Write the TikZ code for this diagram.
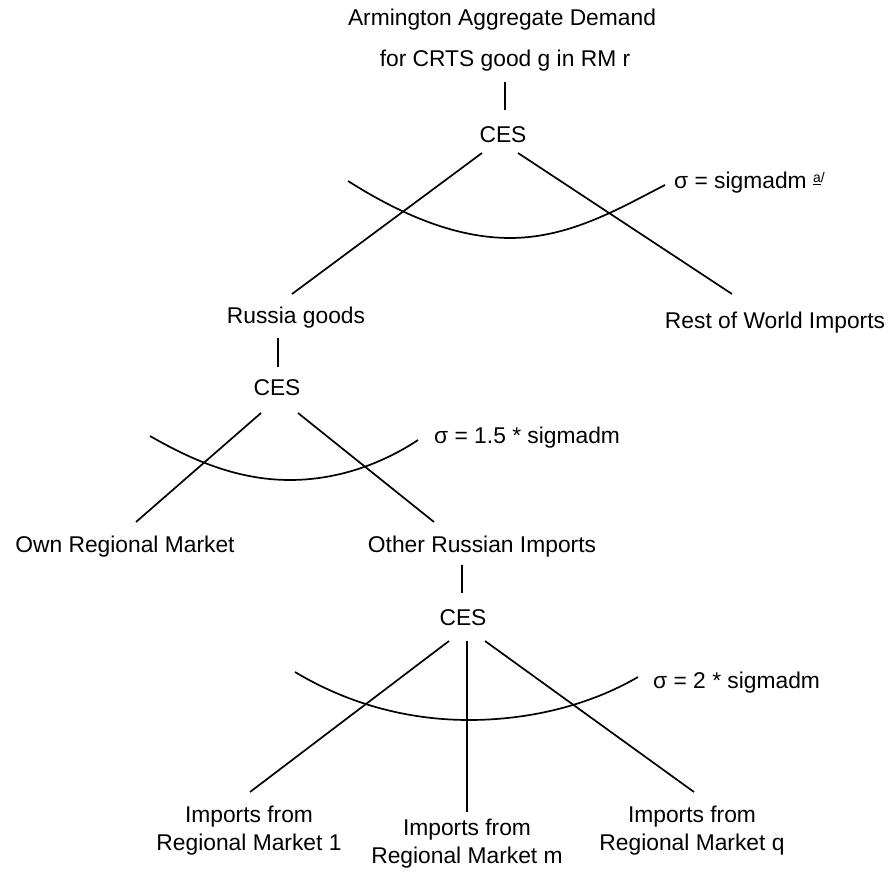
\documentclass[tikz,border=0pt]{standalone}
\usepackage{fontspec}
\setmainfont{Liberation Sans}
\begin{document}
\begin{tikzpicture}[x=1pt,y=-1pt,
  lbl/.style={inner sep=0pt,font=\fontsize{22.8}{28}\selectfont},
  sig/.style={lbl,anchor=west},
  stack/.style={lbl,align=center},
  wire/.style={line width=1.7pt},
  nest/.style={line width=1.7pt}]
\useasboundingbox (0,0) rectangle (896,874);

% ---- top level ----
\node[lbl] (title1) at (502,20) {Armington Aggregate Demand};
\node[lbl] (title2) at (505,61) {for CRTS good g in RM r};
\node[lbl] (ces1) at (503,135) {CES};
\node[lbl] (russia) at (296,318) {Russia goods};
\node[lbl] (row) at (775,323) {Rest of World Imports};
\node[sig] (sig1) at (674,183) {σ = sigmadm \raisebox{6pt}{\fontsize{14}{14}\selectfont\underline{a}/}};

\coordinate (t1a) at (505,82);  \coordinate (t1b) at (505,110);
\coordinate (c1l) at (482,153); \coordinate (rgl) at (292,294);
\coordinate (c1r) at (518,153); \coordinate (rwl) at (732,294);
\draw[wire] (t1a) -- (t1b);
\draw[wire] (c1l) -- (rgl);
\draw[wire] (c1r) -- (rwl);
\draw[nest] (348,181) .. controls (400,214) and (455,238) .. (510,238)
                      .. controls (570,238) and (620,208) .. (665,185);

% ---- Russian goods nest ----
\node[lbl] (ces2) at (277,388) {CES};
\node[lbl] (own) at (125,547) {Own Regional Market};
\node[lbl] (other) at (482,547) {Other Russian Imports};
\node[sig] (sig2) at (434,438) {σ = 1.5 * sigmadm};

\coordinate (r2a) at (278,338); \coordinate (r2b) at (278,367);
\coordinate (c2l) at (261,413); \coordinate (owl) at (136,522);
\coordinate (c2r) at (298,413); \coordinate (otl) at (434,522);
\draw[wire] (r2a) -- (r2b);
\draw[wire] (c2l) -- (owl);
\draw[wire] (c2r) -- (otl);
\draw[nest] (150,436) .. controls (195,462) and (240,480) .. (290,480)
                      .. controls (340,480) and (385,462) .. (418,440);

% ---- regional imports nest ----
\node[lbl] (ces3) at (463,618) {CES};
\node[sig] (sig3) at (653,683) {σ = 2 * sigmadm};
\node[stack] (m1) at (249,831) {Imports from\\Regional Market 1};
\node[stack] (mm) at (467,844) {Imports from\\Regional Market m};
\node[stack] (mq) at (692,831) {Imports from\\Regional Market q};

\coordinate (r3a) at (462,565); \coordinate (r3b) at (462,593);
\coordinate (c3l) at (449,641); \coordinate (m1t) at (250,792);
\coordinate (c3m) at (467,641); \coordinate (mmt) at (467,812);
\coordinate (c3r) at (485,641); \coordinate (mqt) at (694,792);
\draw[wire] (r3a) -- (r3b);
\draw[wire] (c3l) -- (m1t);
\draw[wire] (c3m) -- (mmt);
\draw[wire] (c3r) -- (mqt);
\draw[nest] (295,672) .. controls (350,705) and (410,720) .. (469,720)
                      .. controls (530,720) and (590,705) .. (638,677);
\end{tikzpicture}
\end{document}
